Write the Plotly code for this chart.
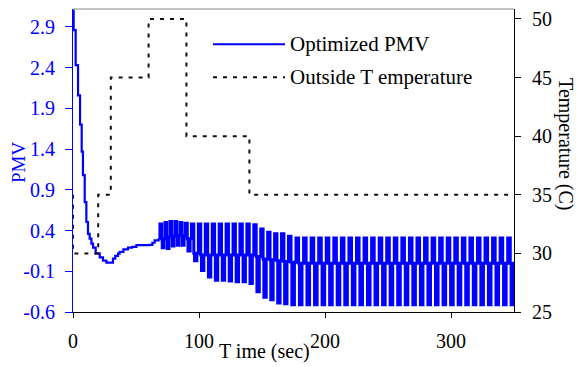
import plotly.graph_objects as go

# ---------------- data ----------------
# Outside temperature (right axis, deg C) - step profile
temp_t = [0, 0, 20, 20, 30, 30, 60, 60, 90, 90, 140, 140, 350]
temp_v = [35, 30, 30, 35, 35, 45, 45, 50, 50, 40, 40, 35, 35]

# Optimized PMV - initial descent and recovery (step-wise)
pmv_t_start = [0, 0.5, 2.1, 4.0, 5.6, 6.9, 7.9, 9.3, 10.6, 11.9, 13.2, 14.6, 15.9,
               18, 21.2, 23.8, 26.5, 29.1, 31.7, 33.5, 35.7, 37, 40, 43.6, 47, 50.3,
               56, 60.8, 63, 64.8, 68]
pmv_v_start = [3.10, 2.86, 2.43, 2.06, 1.70, 1.37, 1.08, 0.75, 0.505, 0.36, 0.30, 0.24, 0.19,
               0.12, 0.07, 0.03, 0.006, 0.005, 0.056, 0.09, 0.117, 0.138, 0.17, 0.19, 0.20, 0.22,
               0.22, 0.225, 0.25, 0.28, 0.31]

# Optimized PMV - oscillating phase, one entry per oscillation cycle
cyc_start = [69, 73, 77, 81, 85, 89, 94, 99.5, 105, 110.5, 116, 121.5, 127, 132.5, 138,
             143.5, 149, 154.5, 160, 165.5, 171,
             177, 183, 189, 195, 201, 207, 213, 219, 225, 231, 237, 243, 249, 255, 261,
             267, 273, 279, 285, 291, 297, 303, 309, 315, 321, 327, 333, 339, 345]
cyc_hi = [0.48, 0.50, 0.51, 0.51, 0.50, 0.49, 0.48, 0.48, 0.48, 0.48, 0.48, 0.48, 0.48, 0.48, 0.48,
          0.47, 0.42, 0.38, 0.36, 0.36, 0.33,
          0.31, 0.31, 0.31, 0.31, 0.31, 0.31, 0.31, 0.31, 0.31, 0.31, 0.31, 0.31, 0.31, 0.31, 0.31,
          0.31, 0.31, 0.31, 0.31, 0.31, 0.31, 0.31, 0.31, 0.31, 0.31, 0.31, 0.31, 0.31, 0.31]
cyc_mid = [0.30, 0.32, 0.33, 0.34, 0.34, 0.30, 0.12, 0.10, 0.10, 0.10, 0.10, 0.10, 0.10, 0.10, 0.10,
           0.08, 0.05, 0.04, 0.03, 0.02, 0.01,
           0.0, 0.0, 0.0, 0.0, 0.0, 0.0, 0.0, 0.0, 0.0, 0.0, 0.0, 0.0, 0.0, 0.0, 0.0,
           0.0, 0.0, 0.0, 0.0, 0.0, 0.0, 0.0, 0.0, 0.0, 0.0, 0.0, 0.0, 0.0, 0.0]
cyc_lo = [0.19, 0.18, 0.21, 0.22, 0.22, 0.15, 0.03, -0.09, -0.17, -0.21, -0.21, -0.22, -0.23, -0.23, -0.25,
          -0.35, -0.42, -0.45, -0.49, -0.50, -0.51,
          -0.51, -0.51, -0.51, -0.51, -0.51, -0.51, -0.51, -0.51, -0.51, -0.51, -0.51, -0.51, -0.51, -0.51, -0.51,
          -0.51, -0.51, -0.51, -0.51, -0.51, -0.51, -0.51, -0.51, -0.51, -0.51, -0.51, -0.51, -0.51, -0.51]
t_end = 350

x_ticks = [0, 100, 200, 300]
pmv_ticks = [-0.6, -0.1, 0.4, 0.9, 1.4, 1.9, 2.4, 2.9]
temp_ticks = [25, 30, 35, 40, 45, 50]

# ---------------- build PMV oscillation series ----------------
# each cycle: rise to hi, fall to mid, fall to lo, rise back to mid (step segments)
osc_t = [pmv_t_start[-1]]
osc_v = [pmv_v_start[-1]]
for i, t0 in enumerate(cyc_start):
    nxt = cyc_start[i + 1] if i + 1 < len(cyc_start) else t0 + 6
    per = nxt - t0
    osc_t += [t0, t0 + 0.34 * per, t0 + 0.45 * per, t0 + 0.79 * per]
    osc_v += [cyc_hi[i], cyc_mid[i], cyc_lo[i], cyc_mid[i]]
osc_t.append(t_end)
osc_v.append(cyc_mid[-1])

FONT = "Liberation Serif, Times New Roman, serif"
BLUE = "#0000FF"
DOT = "#111111"

fig = go.Figure()
fig.add_trace(go.Scatter(x=pmv_t_start, y=pmv_v_start, mode="lines",
                         line=dict(color=BLUE, width=2.2, shape="hv", simplify=False),
                         name="Optimized PMV", yaxis="y", showlegend=False))
fig.add_trace(go.Scatter(x=osc_t, y=osc_v, mode="lines",
                         line=dict(color=BLUE, width=3, shape="hv", simplify=False),
                         name="Optimized PMV", yaxis="y", showlegend=False))
fig.add_trace(go.Scatter(x=temp_t, y=temp_v, mode="lines",
                         line=dict(color=DOT, width=2, dash="4px,6px", simplify=False),
                         name="Outside T emperature", yaxis="y2", showlegend=False))

fig.update_layout(
    width=576, height=367,
    margin=dict(l=73, r=62, t=9, b=55),
    paper_bgcolor="white", plot_bgcolor="white",
    font=dict(family=FONT, size=19, color="black"),
    xaxis=dict(range=[0, 350], tickvals=x_ticks, ticks="outside", ticklen=5, tickcolor="black",
               showline=True, linecolor="black", linewidth=1, showgrid=False, zeroline=False,
               tickfont=dict(family=FONT, size=20, color="black"), ticklabelstandoff=6),
    yaxis=dict(range=[-0.6, 3.12], tickvals=pmv_ticks, ticktext=[f"{v:.1f}" for v in pmv_ticks],
               ticks="outside", ticklen=7, tickcolor=BLUE,
               showline=True, linecolor=BLUE, linewidth=1, showgrid=False, zeroline=False,
               tickfont=dict(family=FONT, size=20, color=BLUE), ticklabelstandoff=6),
    yaxis2=dict(range=[25, 50.85], tickvals=temp_ticks, overlaying="y", side="right", anchor="x",
                ticks="outside", ticklen=6, tickcolor="black",
                showline=True, linecolor="black", linewidth=1, showgrid=False, zeroline=False,
                tickfont=dict(family=FONT, size=20, color="black"), ticklabelstandoff=7),
    yaxis3=dict(range=[25, 50.85], tickvals=temp_ticks, overlaying="y", side="right", anchor="x",
                ticks="inside", ticklen=6, tickcolor="black", showticklabels=False,
                showline=False, showgrid=False, zeroline=False),
    shapes=[
        dict(type="line", xref="paper", yref="paper", x0=0, x1=1, y0=1, y1=1,
             line=dict(color="#888888", width=1)),
        dict(type="line", xref="paper", yref="paper", x0=0.3175, x1=0.4807, y0=0.8835, y1=0.8835,
             line=dict(color=BLUE, width=2)),
        dict(type="line", xref="paper", yref="paper", x0=0.3175, x1=0.4807, y0=0.7746, y1=0.7746,
             line=dict(color=DOT, width=2, dash="4px,6px")),
    ],
    annotations=[
        dict(text="Optimized PMV", xref="paper", yref="paper", x=0.4875, y=0.8835,
             xanchor="left", yanchor="middle", showarrow=False, font=dict(family=FONT, size=21)),
        dict(text="Outside T emperature", xref="paper", yref="paper", x=0.4875, y=0.7746,
             xanchor="left", yanchor="middle", showarrow=False, font=dict(family=FONT, size=21)),
        dict(text="PMV", xref="paper", yref="paper", x=-0.1247, y=0.4917, textangle=-90,
             xanchor="center", yanchor="middle", showarrow=False,
             font=dict(family=FONT, size=19, color=BLUE)),
        dict(text="Temperature (C)", xref="paper", yref="paper", x=1.118, y=0.554, textangle=90,
             xanchor="center", yanchor="middle", showarrow=False, font=dict(family=FONT, size=20)),
        dict(text="T ime (sec)", xref="paper", yref="paper", x=0.435, y=-0.132,
             xanchor="center", yanchor="middle", showarrow=False, font=dict(family=FONT, size=20)),
    ],
)
fig.write_html("out.html")
